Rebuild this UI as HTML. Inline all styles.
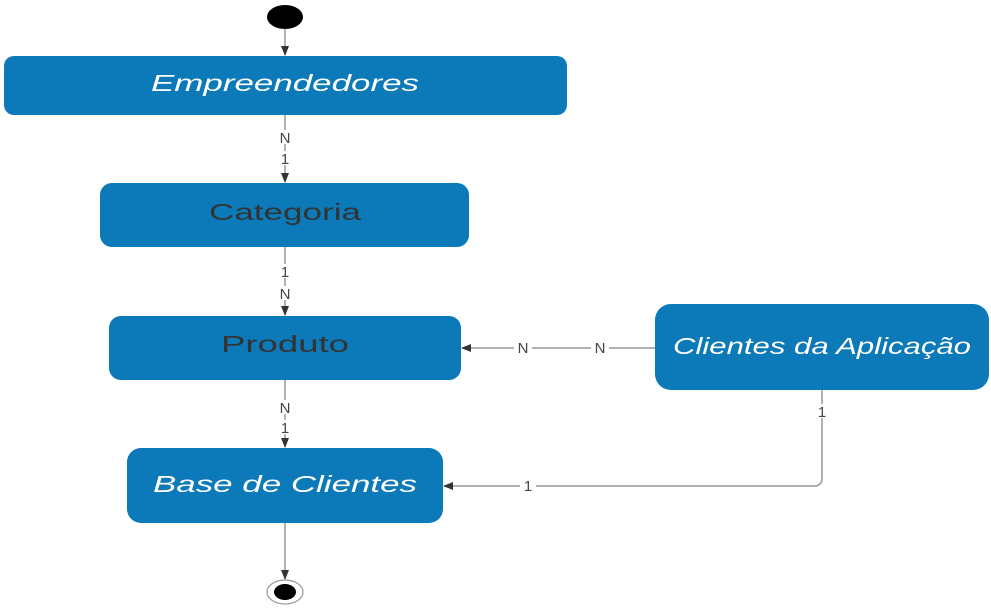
<!DOCTYPE html>
<html><head><meta charset="utf-8"><style>
html,body{margin:0;padding:0;background:#fff;width:991px;height:610px;overflow:hidden}
svg{display:block}
text{font-family:"Liberation Sans",sans-serif}
</style></head><body>
<svg width="991" height="610" viewBox="0 0 991 610">
<defs><marker id="a" markerWidth="10" markerHeight="8" refX="9" refY="4" orient="auto" markerUnits="userSpaceOnUse"><path d="M0,0L10,4L0,8z" fill="#333"/></marker></defs>
<g stroke="#999" stroke-width="1.5" fill="none">
<line x1="285" y1="29" x2="285" y2="55" marker-end="url(#a)"/>
<line x1="285" y1="115" x2="285" y2="182" marker-end="url(#a)"/>
<line x1="285" y1="247" x2="285" y2="315" marker-end="url(#a)"/>
<line x1="285" y1="380" x2="285" y2="447" marker-end="url(#a)"/>
<line x1="285" y1="523" x2="285" y2="579" marker-end="url(#a)"/>
<line x1="655" y1="348" x2="462" y2="348" marker-end="url(#a)"/>
<path d="M822 390 V478 Q822 486 814 486 H444" marker-end="url(#a)"/>
</g>
<g fill="#fff">
<rect x="278" y="130" width="14" height="14"/><rect x="278" y="151" width="14" height="14"/>
<rect x="278" y="264" width="14" height="14"/><rect x="278" y="286" width="14" height="14"/>
<rect x="278" y="400" width="14" height="14"/><rect x="278" y="420" width="14" height="14"/>
<rect x="514" y="340" width="18" height="16"/><rect x="591" y="340" width="18" height="16"/>
<rect x="815" y="404" width="14" height="14"/><rect x="520" y="478" width="16" height="16"/>
</g>
<g fill="#444" font-size="15" text-anchor="middle">
<text x="285" y="143">N</text><text x="285" y="164">1</text>
<text x="285" y="277">1</text><text x="285" y="299">N</text>
<text x="285" y="413">N</text><text x="285" y="433">1</text>
<text x="523" y="353">N</text><text x="600" y="353">N</text>
<text x="822" y="417">1</text><text x="528" y="491">1</text>
</g>
<ellipse cx="285" cy="17" rx="18" ry="12" fill="#000"/>
<ellipse cx="285" cy="592" rx="18" ry="12" fill="#fff" stroke="#999" stroke-width="1.2"/>
<ellipse cx="285" cy="592" rx="11" ry="8" fill="#000"/>
<g fill="#0c79b8">
<rect x="4" y="56" width="563" height="59" rx="10"/>
<rect x="100" y="183" width="369" height="64" rx="12"/>
<rect x="109" y="316" width="352" height="64" rx="12"/>
<rect x="655" y="304" width="334" height="86" rx="16"/>
<rect x="127" y="448" width="316" height="75" rx="14"/>
</g>
<g font-size="23" text-anchor="middle">
<text x="285" y="91" fill="#fff" font-style="italic" textLength="268" lengthAdjust="spacingAndGlyphs">Empreendedores</text>
<text x="285" y="220" fill="#333" textLength="152" lengthAdjust="spacingAndGlyphs">Categoria</text>
<text x="285" y="352" fill="#333" textLength="128" lengthAdjust="spacingAndGlyphs">Produto</text>
<text x="822" y="354" fill="#fff" font-style="italic" textLength="298" lengthAdjust="spacingAndGlyphs">Clientes da Aplicação</text>
<text x="285" y="492" fill="#fff" font-style="italic" textLength="264" lengthAdjust="spacingAndGlyphs">Base de Clientes</text>
</g>
</svg>
</body></html>
